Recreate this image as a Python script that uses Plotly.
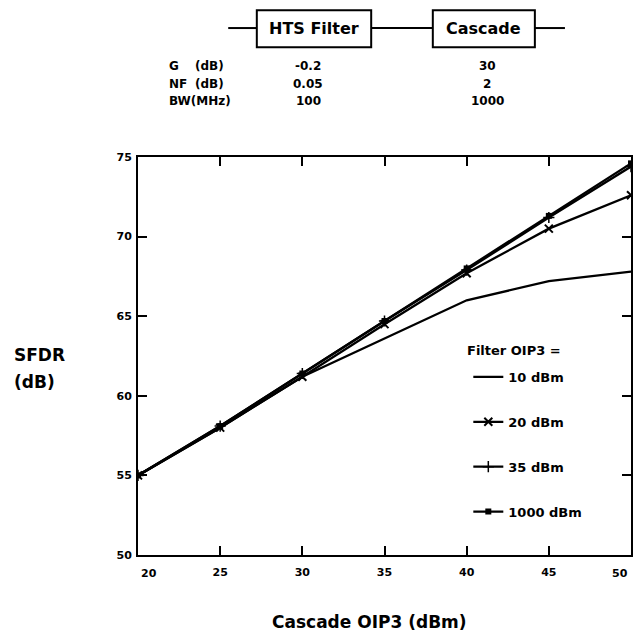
import plotly.graph_objects as go

oip3 = [20, 25, 30, 35, 40, 45, 50]
sfdr_10 = [55.0, 58.0, 61.2, 63.6, 66.0, 67.2, 67.8]
sfdr_20 = [55.0, 58.0, 61.2, 64.5, 67.7, 70.5, 72.6]
sfdr_35 = [55.0, 58.1, 61.4, 64.7, 67.9, 71.2, 74.4]
sfdr_1000 = [55.0, 58.1, 61.4, 64.7, 68.0, 71.3, 74.6]

series_names = ["10 dBm", "20 dBm", "35 dBm", "1000 dBm"]
table_rows = ["G", "NF", "BW(MHz)"]
table_units = ["(dB)", "(dB)", ""]
hts_vals = ["-0.2", "0.05", "100"]
casc_vals = ["30", "2", "1000"]
x_ticks = [20, 25, 30, 35, 40, 45, 50]
y_ticks = [50, 55, 60, 65, 70, 75]

FONT = "DejaVu Sans, Liberation Sans, sans-serif"

def bf(size):
    return dict(family=FONT, size=size, color="black", weight="bold")

fig = go.Figure()
styles = [
    (sfdr_10, dict(color="black"), "lines"),
    (sfdr_20, dict(symbol="x-thin", size=8, color="black", line=dict(width=2, color="black")), "lines+markers"),
    (sfdr_35, dict(symbol="cross-thin", size=8, color="black", line=dict(width=1.5, color="black")), "lines+markers"),
    (sfdr_1000, dict(symbol="square", size=6, color="black"), "lines+markers"),
]
for i, (ys, mk, mode) in enumerate(styles):
    fig.add_trace(go.Scatter(
        x=oip3, y=ys, mode=mode, name=series_names[i],
        line=dict(color="black", width=2.3), marker=mk,
        legendgroup=str(i),
    ))

axis_common = dict(
    showline=True, linecolor="black", linewidth=2, mirror="allticks",
    ticks="inside", ticklen=9, tickwidth=2, tickcolor="black",
    showgrid=False, zeroline=False,
    tickfont=bf(11),
)
x_ticktext = [""] + [str(v) for v in x_ticks[1:-1]] + [""]
fig.update_xaxes(range=[20, 50], tickvals=x_ticks, ticktext=x_ticktext,
                 ticklabelstandoff=6, **axis_common)
fig.update_yaxes(range=[50, 75], tickvals=y_ticks, ticklabelstandoff=2, **axis_common)

# end tick labels of the x axis, kept inside the frame edges
for v, anc, sh in [(x_ticks[0], "left", 1), (x_ticks[-1], "right", -1)]:
    fig.add_annotation(x=v, y=0, xref="x", yref="paper", text=str(v), showarrow=False,
                       xanchor=anc, yanchor="top", xshift=sh, yshift=-10, font=bf(11))

fig.update_layout(
    width=635, height=632, plot_bgcolor="white", paper_bgcolor="white",
    margin=dict(l=138, r=4, t=157, b=77, autoexpand=False),
    showlegend=True,
    legend=dict(x=0.67, y=0.485, xanchor="left", yanchor="top",
                bgcolor="rgba(0,0,0,0)", traceorder="grouped", tracegroupgap=25,
                itemwidth=30, font=bf(13)),
)

# legend heading
fig.add_annotation(x=(465 - 138) / 493, y=0.513, xref="paper", yref="paper", text="Filter OIP3 =",
                   showarrow=False, xanchor="left", yanchor="middle", font=bf(13))

# axis titles
fig.add_annotation(x=-0.255, y=0.5025, xref="paper", yref="paper", text="SFDR",
                   showarrow=False, xanchor="left", yanchor="middle", font=bf(17))
fig.add_annotation(x=-0.255, y=0.4347, xref="paper", yref="paper", text="(dB)",
                   showarrow=False, xanchor="left", yanchor="middle", font=bf(17))
fig.add_annotation(x=0.47, y=-0.168, xref="paper", yref="paper", text="Cascade OIP3 (dBm)",
                   showarrow=False, xanchor="center", yanchor="middle", font=bf(17))

# block diagram
ly = 1.324
line_segs = [(0.183, 0.241), (0.473, 0.598), (0.805, 0.866)]
for a, b in line_segs:
    fig.add_shape(type="line", xref="paper", yref="paper", x0=a, x1=b, y0=ly, y1=ly,
                  line=dict(color="black", width=2))
boxes = [(0.241, 0.473, "HTS Filter"), (0.598, 0.805, "Cascade")]
for a, b, t in boxes:
    fig.add_shape(type="rect", xref="paper", yref="paper", x0=a, x1=b, y0=1.276, y1=1.369,
                  line=dict(color="black", width=2))
    fig.add_annotation(x=(a + b) / 2, y=ly, xref="paper", yref="paper", text=t, showarrow=False,
                       xanchor="center", yanchor="middle", font=bf(16))

row_y = [1.229, 1.183, 1.141]
tfont = bf(12)
for i in range(3):
    fig.add_annotation(x=0.059, y=row_y[i], xref="paper", yref="paper", text=table_rows[i],
                       showarrow=False, xanchor="left", yanchor="middle", font=tfont)
    if table_units[i]:
        fig.add_annotation(x=0.112, y=row_y[i], xref="paper", yref="paper", text=table_units[i],
                           showarrow=False, xanchor="left", yanchor="middle", font=tfont)
    fig.add_annotation(x=0.345, y=row_y[i], xref="paper", yref="paper", text=hts_vals[i],
                       showarrow=False, xanchor="center", yanchor="middle", font=tfont)
    fig.add_annotation(x=0.708, y=row_y[i], xref="paper", yref="paper", text=casc_vals[i],
                       showarrow=False, xanchor="center", yanchor="middle", font=tfont)

fig.write_html("out.html")
